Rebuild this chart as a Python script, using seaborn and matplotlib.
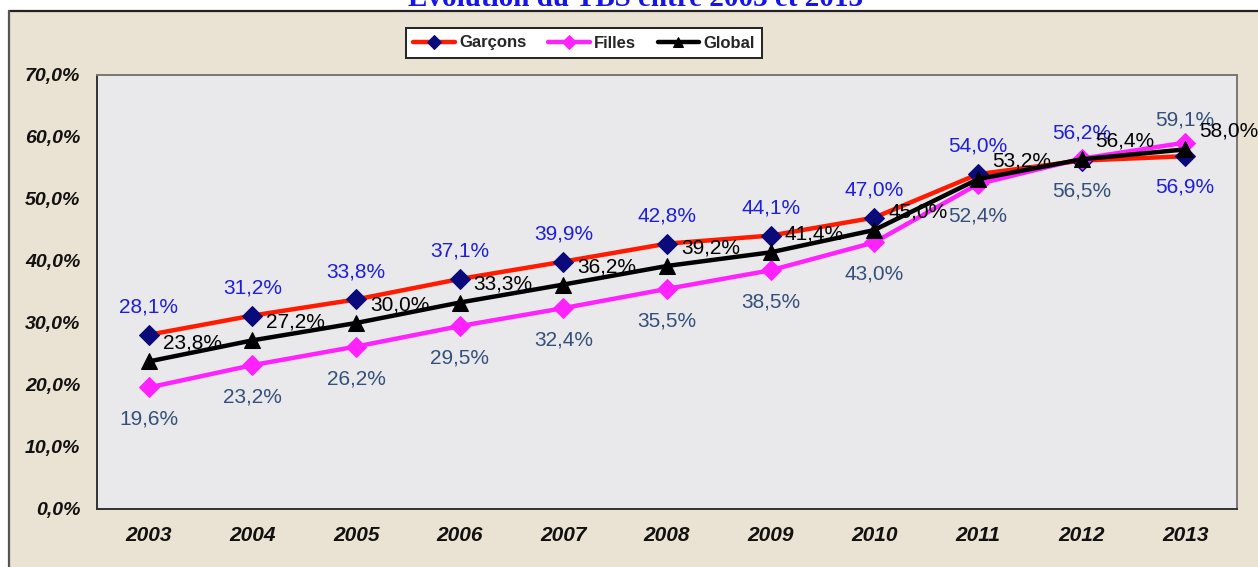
import matplotlib
matplotlib.use("Agg")
import numpy as np
import matplotlib.pyplot as plt
import pandas as pd
import seaborn as sns
from matplotlib.patches import Rectangle
from matplotlib.lines import Line2D

# data (TBS en %)
years = ["2003", "2004", "2005", "2006", "2007", "2008", "2009", "2010", "2011", "2012", "2013"]
garcons = [28.1, 31.2, 33.8, 37.1, 39.9, 42.8, 44.1, 47.0, 54.0, 56.2, 56.9]
filles = [19.6, 23.2, 26.2, 29.5, 32.4, 35.5, 38.5, 43.0, 52.4, 56.5, 59.1]
global_ = [23.8, 27.2, 30.0, 33.3, 36.2, 39.2, 41.4, 45.0, 53.2, 56.4, 58.0]
yticks = [0, 10, 20, 30, 40, 50, 60, 70]
# where the boys' label sits (the last year it is under the point, girls' above)
garcons_above = [True] * 10 + [False]

df = pd.DataFrame({"pos": range(len(years)), "Garçons": garcons, "Filles": filles, "Global": global_})

sns.set_style("white")
plt.rcParams['font.family'] = ['Liberation Sans', 'DejaVu Sans']

fig = plt.figure(figsize=(12.58, 5.67), dpi=100, facecolor="white")
W, H = 1258, 567

# beige panel with dark frame (top / left)
fig.add_artist(Rectangle((9 / W, -0.05), 1.1, 1 - 11 / H + 0.05, transform=fig.transFigure,
                         facecolor="#EAE3D3", edgecolor="none", zorder=0))
fig.add_artist(Line2D([9 / W, 1], [1 - 11 / H, 1 - 11 / H], transform=fig.transFigure, color="#222222", lw=1.6))
fig.add_artist(Line2D([9 / W, 9 / W], [0, 1 - 11 / H], transform=fig.transFigure, color="#555555", lw=1.6))

# title mostly cut off at top
fig.text(0.505, 1 - 6 / H, "Evolution du TBS entre 2003 et 2013", ha="center", va="baseline",
         fontsize=21, fontweight="bold", color="#1515E6", family=["Liberation Serif", "DejaVu Serif"])

ax = fig.add_axes([97 / W, 1 - 509 / H, (1237 - 97) / W, (509 - 75) / H])
ax.set_facecolor("#E9E9EB")

sns.lineplot(data=df, x="pos", y="Garçons", ax=ax, color="#FF1A00", lw=3.2, marker="D", markersize=10,
             markerfacecolor="#0A0A7A", markeredgecolor="#0A0A7A", zorder=3, label="Garçons")
sns.lineplot(data=df, x="pos", y="Filles", ax=ax, color="#FF22FF", lw=3.2, marker="D", markersize=10,
             markerfacecolor="#FF22FF", markeredgecolor="#FF22FF", zorder=3, label="Filles")
sns.lineplot(data=df, x="pos", y="Global", ax=ax, color="black", lw=3.2, marker="^", markersize=12,
             markerfacecolor="black", markeredgecolor="black", zorder=4, label="Global")

# data labels
for i in range(len(years)):
    g, f, t = garcons[i], filles[i], global_[i]
    g_off = 20 if garcons_above[i] else -22
    f_off = -23 if garcons_above[i] else 16
    ax.annotate(f"{g:.1f}%".replace(".", ","), (i, g), xytext=(0, g_off), textcoords="offset points",
                ha="center", va="center", fontsize=15, color="#1E1EDC", zorder=5)
    ax.annotate(f"{f:.1f}%".replace(".", ","), (i, f), xytext=(0, f_off), textcoords="offset points",
                ha="center", va="center", fontsize=15, color="#34507A", zorder=5)
    ax.annotate(f"{t:.1f}%".replace(".", ","), (i, t), xytext=(10, 13), textcoords="offset points",
                ha="left", va="center", fontsize=15, color="black", zorder=5)

ax.set_xlim(-0.5, len(years) - 0.5)
ax.set_ylim(0, 70)
ax.set_yticks(yticks)
ax.set_yticklabels([f"{v:.1f}%".replace(".", ",") for v in yticks], fontsize=14, fontweight="bold",
                   fontstyle="italic", color="#111111")
ax.set_xticks(np.arange(-0.5, len(years), 1.0))
ax.set_xticklabels([])
ax.set_xticks(range(len(years)), minor=True)
ax.set_xticklabels(years, minor=True, fontsize=15, fontweight="bold", fontstyle="italic", color="#111111")
ax.tick_params(axis="x", which="minor", length=0, pad=12)
ax.tick_params(axis="x", which="major", length=7, width=1.2, color="#333333", direction="out")
ax.tick_params(axis="y", length=7, width=1.2, color="#333333", direction="out", pad=5)
ax.set_xlabel("")
ax.set_ylabel("")
for side, sp in ax.spines.items():
    sp.set_color("#777777" if side in ("top", "right") else "#333333")
    sp.set_linewidth(1.4)

leg = ax.legend(loc="center", bbox_to_anchor=(584 / W, 1 - 43 / H), bbox_transform=fig.transFigure,
                ncol=3, frameon=True, fancybox=False, handlelength=2.5, columnspacing=1.3,
                handletextpad=0.25, borderpad=0.45,
                prop={"family": ["Liberation Sans Narrow", "Liberation Sans"], "weight": "bold", "size": 12})
leg.get_frame().set_edgecolor("#222222")
leg.get_frame().set_linewidth(1.4)
leg.get_frame().set_facecolor("white")
leg.get_frame().set_alpha(1)
for h in leg.legend_handles:
    h.set_markersize(7)

fig.savefig("out.png", dpi=100, facecolor=fig.get_facecolor())
